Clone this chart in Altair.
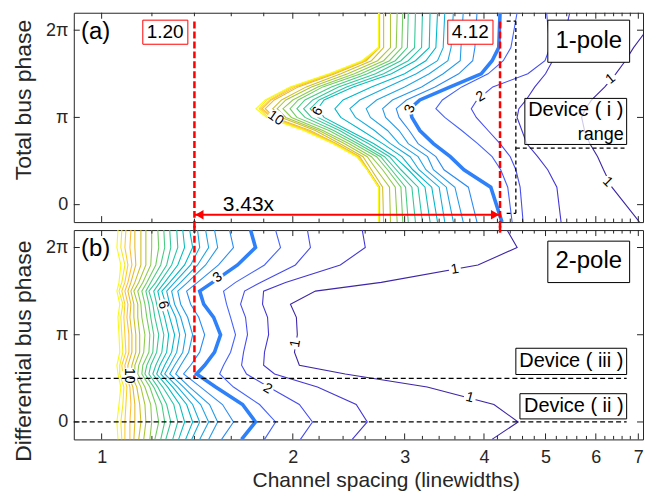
import altair as alt
import pandas as pd

FONT = "Liberation Sans"
INK = "#262626"
W, H = 571, 210

# ---------------- contour levels and colours ----------------
LEVELS = [1.0, 1.5, 2.0, 2.5, 3.0, 3.5, 4.0, 4.5, 5.0, 5.5, 6.0, 6.5,
          7.0, 7.5, 8.0, 8.5, 9.0, 9.5, 10.0, 10.5, 11.0, 11.5, 12.0]
LEVEL_COLORS = ["#3e26a8", "#4537d5", "#484df0", "#4563fd", "#2f81fa", "#2d8cf3",
                "#259be8", "#20a5e3", "#18addb", "#01b8ca", "#0bbdbd", "#2cc4a7",
                "#37c897", "#4acb84", "#72cd64", "#8fcb4e", "#abc739", "#d1bf27",
                "#e6bb2d", "#febe3c", "#fccf30", "#f5e924", "#f9fb15"]

# ---------------- panel (a): total bus phase (units of pi) ----------------
A_PHASE = [2.2, 1.8, 1.65, 1.5, 1.35, 1.2, 1.1, 1.0, 0.85, 0.7, 0.55, 0.4, 0.2, -0.2]
A_SPACING = [
    [7.56, 6.88, 6.68, 6.45, 6.20, 5.91, 5.78, 5.70, 5.76, 5.87, 6.04, 6.17, 6.36, 7.03],  # 1
    [5.46, 5.30, 5.13, 5.00, 4.81, 4.66, 4.54, 4.51, 4.59, 4.67, 4.86, 5.04, 5.21, 5.29],  # 1.5
    [5.02, 5.08, 4.99, 4.69, 4.13, 3.90, 3.82, 3.89, 4.06, 4.24, 4.40, 4.49, 4.56, 4.61],  # 2
    [4.51, 4.41, 4.29, 4.06, 3.69, 3.44, 3.36, 3.47, 3.69, 3.91, 4.12, 4.25, 4.36, 4.43],  # 2.5
    [4.24, 4.22, 4.12, 3.96, 3.54, 3.17, 3.06, 3.08, 3.17, 3.33, 3.54, 3.72, 4.10, 4.27],  # 3
    [3.90, 3.87, 3.84, 3.65, 3.35, 3.02, 2.91, 2.94, 3.05, 3.15, 3.36, 3.46, 3.78, 3.90],  # 3.5
    [3.71, 3.68, 3.67, 3.45, 3.19, 2.87, 2.77, 2.80, 2.94, 3.04, 3.26, 3.33, 3.60, 3.71],  # 4
    [3.58, 3.55, 3.51, 3.28, 3.00, 2.71, 2.61, 2.65, 2.82, 2.94, 3.15, 3.24, 3.49, 3.58],  # 4.5
    [3.47, 3.45, 3.38, 3.13, 2.82, 2.55, 2.46, 2.51, 2.69, 2.85, 3.06, 3.16, 3.40, 3.47],  # 5
    [3.38, 3.36, 3.24, 3.00, 2.66, 2.40, 2.33, 2.38, 2.57, 2.77, 2.97, 3.09, 3.31, 3.38],  # 5.5
    [3.29, 3.28, 3.12, 2.86, 2.49, 2.24, 2.19, 2.24, 2.45, 2.68, 2.89, 3.04, 3.23, 3.29],  # 6
    [3.20, 3.19, 3.04, 2.78, 2.43, 2.20, 2.13, 2.19, 2.41, 2.63, 2.84, 2.96, 3.15, 3.20],  # 6.5
    [3.12, 3.11, 2.96, 2.70, 2.36, 2.15, 2.08, 2.14, 2.37, 2.57, 2.79, 2.91, 3.08, 3.12],  # 7
    [3.04, 3.03, 2.90, 2.62, 2.30, 2.09, 2.03, 2.09, 2.32, 2.53, 2.75, 2.86, 3.01, 3.04],  # 7.5
    [2.98, 2.97, 2.84, 2.56, 2.23, 2.04, 1.98, 2.03, 2.28, 2.49, 2.71, 2.82, 2.96, 2.98],  # 8
    [2.92, 2.91, 2.78, 2.50, 2.19, 2.00, 1.93, 1.99, 2.23, 2.45, 2.66, 2.77, 2.90, 2.92],  # 8.5
    [2.85, 2.85, 2.72, 2.44, 2.14, 1.95, 1.89, 1.95, 2.20, 2.41, 2.62, 2.71, 2.84, 2.85],  # 9
    [2.78, 2.78, 2.66, 2.38, 2.10, 1.92, 1.86, 1.92, 2.17, 2.37, 2.58, 2.66, 2.77, 2.78],  # 9.5
    [2.74, 2.74, 2.61, 2.33, 2.04, 1.87, 1.81, 1.87, 2.13, 2.34, 2.55, 2.63, 2.74, 2.74],  # 10
    [2.73, 2.73, 2.60, 2.31, 2.02, 1.85, 1.79, 1.86, 2.11, 2.33, 2.54, 2.62, 2.73, 2.73],  # 10.5
    [2.73, 2.73, 2.59, 2.30, 2.00, 1.84, 1.78, 1.85, 2.10, 2.32, 2.53, 2.62, 2.73, 2.73],  # 11
    [2.73, 2.73, 2.58, 2.29, 1.99, 1.82, 1.77, 1.83, 2.09, 2.32, 2.53, 2.62, 2.73, 2.73],  # 11.5
    [2.73, 2.73, 2.57, 2.28, 1.98, 1.81, 1.75, 1.82, 2.08, 2.31, 2.52, 2.62, 2.73, 2.73],  # 12
]
A_LABELS = [("10", 1.88, 0.99, 35), ("6", 2.19, 1.07, 300), ("3", 3.06, 1.10, 290),
            ("2", 3.95, 1.24, 330), ("1", 6.33, 1.44, 320), ("1", 6.26, 0.26, 45)]

# ---------------- panel (b): differential bus phase (units of pi) ----------------
B_PHASE = [2.2, 2.0, 1.8, 1.6, 1.5, 1.35, 1.2, 1.0, 0.8, 0.65, 0.55, 0.4, 0.2, 0.0, -0.2]
B_SPACING = [
    [4.349, 4.511, 3.914, 2.756, 2.171, 1.983, 2.026, 2.033, 2.012, 2.048, 2.419, 3.255, 4.147, 4.528, 4.118],  # 1
    [2.573, 2.601, 2.376, 1.948, 1.799, 1.792, 1.825, 1.832, 1.805, 1.799, 1.872, 2.187, 2.517, 2.620, 2.481],  # 1.5
    [2.109, 2.132, 2.019, 1.779, 1.679, 1.655, 1.685, 1.697, 1.673, 1.661, 1.691, 1.832, 2.048, 2.148, 2.056],  # 2
    [1.879, 1.913, 1.805, 1.625, 1.556, 1.573, 1.596, 1.625, 1.596, 1.556, 1.534, 1.613, 1.773, 1.879, 1.805],  # 2.5
    [1.716, 1.747, 1.637, 1.495, 1.427, 1.448, 1.501, 1.539, 1.506, 1.453, 1.411, 1.512, 1.667, 1.747, 1.661],  # 3
    [1.590, 1.613, 1.528, 1.416, 1.361, 1.381, 1.422, 1.453, 1.427, 1.381, 1.346, 1.432, 1.550, 1.613, 1.545],  # 3.5
    [1.506, 1.523, 1.458, 1.366, 1.318, 1.332, 1.366, 1.391, 1.371, 1.332, 1.308, 1.376, 1.479, 1.523, 1.474],  # 4
    [1.458, 1.474, 1.416, 1.332, 1.289, 1.303, 1.332, 1.356, 1.342, 1.303, 1.280, 1.346, 1.432, 1.474, 1.427],  # 4.5
    [1.416, 1.427, 1.381, 1.303, 1.266, 1.280, 1.308, 1.327, 1.313, 1.280, 1.257, 1.318, 1.391, 1.427, 1.386],  # 5
    [1.376, 1.391, 1.351, 1.280, 1.244, 1.262, 1.280, 1.303, 1.289, 1.257, 1.239, 1.294, 1.361, 1.391, 1.356],  # 5.5
    [1.342, 1.351, 1.318, 1.257, 1.226, 1.239, 1.257, 1.275, 1.266, 1.235, 1.221, 1.271, 1.327, 1.351, 1.322],  # 6
    [1.313, 1.318, 1.289, 1.235, 1.208, 1.221, 1.235, 1.253, 1.244, 1.217, 1.204, 1.248, 1.299, 1.318, 1.294],  # 6.5
    [1.280, 1.285, 1.266, 1.217, 1.187, 1.204, 1.213, 1.230, 1.221, 1.195, 1.187, 1.226, 1.266, 1.285, 1.262],  # 7
    [1.253, 1.257, 1.239, 1.195, 1.174, 1.187, 1.195, 1.208, 1.204, 1.178, 1.170, 1.208, 1.244, 1.257, 1.239],  # 7.5
    [1.226, 1.230, 1.217, 1.178, 1.157, 1.170, 1.178, 1.191, 1.187, 1.161, 1.157, 1.191, 1.217, 1.230, 1.213],  # 8
    [1.199, 1.199, 1.195, 1.161, 1.140, 1.153, 1.157, 1.170, 1.165, 1.144, 1.140, 1.170, 1.195, 1.199, 1.191],  # 8.5
    [1.174, 1.174, 1.174, 1.144, 1.124, 1.140, 1.140, 1.148, 1.148, 1.128, 1.128, 1.153, 1.170, 1.174, 1.165],  # 9
    [1.153, 1.153, 1.153, 1.128, 1.112, 1.124, 1.124, 1.132, 1.132, 1.116, 1.112, 1.136, 1.148, 1.153, 1.144],  # 9.5
    [1.128, 1.128, 1.132, 1.112, 1.100, 1.112, 1.108, 1.116, 1.116, 1.100, 1.100, 1.120, 1.128, 1.128, 1.124],  # 10
    [1.112, 1.108, 1.116, 1.100, 1.088, 1.100, 1.096, 1.104, 1.104, 1.088, 1.092, 1.108, 1.112, 1.108, 1.108],  # 10.5
    [1.092, 1.088, 1.100, 1.088, 1.076, 1.088, 1.084, 1.088, 1.092, 1.076, 1.080, 1.096, 1.092, 1.088, 1.088],  # 11
    [1.076, 1.072, 1.088, 1.076, 1.065, 1.080, 1.072, 1.076, 1.080, 1.068, 1.068, 1.084, 1.080, 1.072, 1.076],  # 11.5
    [1.061, 1.057, 1.072, 1.065, 1.057, 1.068, 1.061, 1.065, 1.068, 1.057, 1.061, 1.072, 1.065, 1.057, 1.061],  # 12
]
B_LABELS = [("3", 1.523, 1.656, 325), ("6", 1.25, 1.34, 75), ("10", 1.105, 0.53, 90),
            ("2", 1.825, 0.382, 30), ("1", 3.60, 1.75, 350), ("1", 2.02, 0.90, 280),
            ("1", 3.80, 0.278, 15)]

# ---------------- axes ----------------
X_MAJOR = [1, 2, 3, 4, 5, 6, 7]
X_MINOR = [1.2, 1.4, 1.6, 1.8, 2.2, 2.4, 2.6, 2.8, 3.2, 3.4, 3.6, 3.8,
           4.2, 4.4, 4.6, 4.8, 5.2, 5.4, 5.6, 5.8, 6.2, 6.4, 6.6, 6.8]
Y_MAJOR = [0, 1, 2]

# ---------------- annotations ----------------
RED_X = [1.40, 4.24]
ARROW_Y = -0.115
A_RED_BOXES = [(1.161, 1.367, 1.839, 2.115), (3.508, 4.133, 1.839, 2.115)]
A_BLACK_BOXES = [(5.042, 6.783, 1.632, 2.115)]
A_DEVICE_BOX = [(4.639, 6.710, 0.690, 1.218)]
A_TEXT_BIG = [("1-pole", 5.849, 1.874)]
A_TEXT_MID = [("1.20", 1.259, 1.977), ("4.12", 3.806, 1.977)]
A_TEXT_DEV = [("Device ( i )", 5.58, 1.08)]
A_BRACKET_V = [(4.49, -0.10, 2.103)]
A_BRACKET_H = [(4.343, 4.49, 2.103), (4.343, 4.49, -0.10), (4.49, 6.686, 0.647)]

B_BOXES = [(5.042, 6.783, 1.598, 2.073), (4.490, 6.710, 0.544, 0.845), (4.557, 6.710, 0.035, 0.324)]
B_TEXT_BIG = [("2-pole", 5.849, 1.841)]
B_TEXT_DEV = [("Device ( iii )", 5.49, 0.695), ("Device ( ii )", 5.54, 0.185)]
B_DEVICE_PHASE = [0.5, 0.0]

X_SCALE = alt.Scale(type="log", domain=[0.904, 7.12], nice=False)
Y_SCALE = alt.Scale(domain=[-0.2, 2.2], nice=False, zero=False)


def contour_table(phase, spacing):
    recs = []
    for lev, xs in zip(LEVELS, spacing):
        for i, (p, s) in enumerate(zip(phase, xs)):
            recs.append({"level": lev, "idx": i, "spacing": s, "phase": p})
    return pd.DataFrame(recs)


def y_axis(title, title_y):
    return alt.Axis(values=Y_MAJOR,
                    labelExpr="datum.value == 0 ? '0' : (datum.value == 1 ? 'π' : '2π')",
                    ticks=False, domain=False, grid=False, labelPadding=6,
                    labelFontSize=18, labelFont=FONT, labelColor=INK,
                    title=title, titleFontSize=23, titleFont=FONT, titleFontWeight="normal",
                    titleColor=INK, titleX=-38, titleY=title_y, titleBaseline="bottom",
                    titleAngle=270, titleAlign="center")


X_AXIS_B = alt.Axis(values=X_MAJOR, format="d", ticks=False, domain=False, grid=False,
                    labelPadding=9, labelFontSize=18, labelFont=FONT, labelColor=INK,
                    labelFlush=False, title="Channel spacing (linewidths)", titleFontSize=21,
                    titleFont=FONT, titleFontWeight="normal", titleColor=INK,
                    titleBaseline="top", titleY=30, titleX=313)


def text_layer(rows, ex, ey, size, align="center"):
    df = pd.DataFrame(rows, columns=["t", "x", "y"])
    return alt.Chart(df).mark_text(font=FONT, fontSize=size, align=align, baseline="middle",
                                   color="black").encode(x=ex("x"), y=ey("y"), text="t:N")


def box_layer(rows, ex, ey, stroke, opacity=1.0):
    df = pd.DataFrame(rows, columns=["x", "x2", "y", "y2"])
    return alt.Chart(df).mark_rect(fill="white", fillOpacity=opacity, stroke=stroke,
                                   strokeWidth=1).encode(
        x=ex("x"), x2=alt.X2("x2:Q"), y=ey("y"), y2=alt.Y2("y2:Q"))


def make_panel(phase, spacing, labels, yaxis, xaxis, extra):
    def ex(f):
        return alt.X(f"{f}:Q", scale=X_SCALE, axis=xaxis)

    def ey(f):
        return alt.Y(f"{f}:Q", scale=Y_SCALE, axis=yaxis)

    lines = contour_table(phase, spacing)
    color = alt.Color("level:O", scale=alt.Scale(domain=LEVELS, range=LEVEL_COLORS), legend=None)
    base = alt.Chart(lines).encode(x=ex("spacing"), y=ey("phase"), color=color,
                                   detail="level:O", order="idx:Q")
    thin = base.transform_filter(alt.datum.level != 3).mark_line(clip=True, strokeWidth=1.1)
    thick = base.transform_filter(alt.datum.level == 3).mark_line(clip=True, strokeWidth=3.6)

    lab = pd.DataFrame(labels, columns=["text", "spacing", "phase", "angle"])
    lab_bg = alt.Chart(lab).mark_point(filled=True, color="white", opacity=1, shape="circle",
                                       strokeWidth=0).encode(
        x=ex("spacing"), y=ey("phase"),
        size=alt.condition("length(datum.text) > 1", alt.value(280), alt.value(150)))
    lab_tx = alt.Chart(lab).mark_text(font=FONT, fontSize=14, color="black",
                                      baseline="middle").encode(
        x=ex("spacing"), y=ey("phase"), text="text:N", angle=alt.Angle("angle:Q", scale=None))

    ticks = []
    for vals, ln in [(X_MAJOR, 6), (X_MINOR, 3.5)]:
        d = alt.Chart(pd.DataFrame({"v": vals}))
        ticks.append(d.mark_rule(color=INK, strokeWidth=1).encode(
            x=ex("v"), y=alt.value(0), y2=alt.value(ln)))
        ticks.append(d.mark_rule(color=INK, strokeWidth=1).encode(
            x=ex("v"), y=alt.value(H), y2=alt.value(H - ln)))
    d = alt.Chart(pd.DataFrame({"v": Y_MAJOR}))
    ticks.append(d.mark_rule(color=INK, strokeWidth=1).encode(
        y=ey("v"), x=alt.value(0), x2=alt.value(6)))
    ticks.append(d.mark_rule(color=INK, strokeWidth=1).encode(
        y=ey("v"), x=alt.value(W), x2=alt.value(W - 6)))

    return alt.layer(thin, thick, lab_bg, lab_tx, *extra(ex, ey), *ticks).properties(
        width=W, height=H)


def extra_a(ex, ey):
    out = []
    red = pd.DataFrame({"x": RED_X, "y": [2.10, 2.10], "y2": [-0.305, -0.305]})
    out.append(alt.Chart(red).mark_rule(color="red", strokeWidth=2.5, strokeDash=[7, 3]).encode(
        x=ex("x"), y=ey("y"), y2=alt.Y2("y2:Q")))
    arrow = pd.DataFrame({"x": [RED_X[0]], "x2": [RED_X[1]], "y": [ARROW_Y]})
    out.append(alt.Chart(arrow).mark_rule(color="red", strokeWidth=2).encode(
        x=ex("x"), x2=alt.X2("x2:Q"), y=ey("y")))
    left = pd.DataFrame({"x": [RED_X[0]], "y": [ARROW_Y]})
    right = pd.DataFrame({"x": [RED_X[1]], "y": [ARROW_Y]})
    out.append(alt.Chart(left).mark_point(shape="triangle-left", filled=True, color="red",
                                          opacity=1, size=90, xOffset=5).encode(x=ex("x"), y=ey("y")))
    out.append(alt.Chart(right).mark_point(shape="triangle-right", filled=True, color="red",
                                           opacity=1, size=90, xOffset=-5).encode(x=ex("x"), y=ey("y")))
    out.append(text_layer([("3.43x", 1.703, 0.0)], ex, ey, 21))
    bv = pd.DataFrame(A_BRACKET_V, columns=["x", "y", "y2"])
    out.append(alt.Chart(bv).mark_rule(color="black", strokeWidth=1.3, strokeDash=[4, 3]).encode(
        x=ex("x"), y=ey("y"), y2=alt.Y2("y2:Q")))
    bh = pd.DataFrame(A_BRACKET_H, columns=["x", "x2", "y"])
    out.append(alt.Chart(bh).mark_rule(color="black", strokeWidth=1.3, strokeDash=[4, 3]).encode(
        x=ex("x"), x2=alt.X2("x2:Q"), y=ey("y")))
    out.append(box_layer(A_RED_BOXES, ex, ey, "red"))
    out.append(box_layer(A_BLACK_BOXES, ex, ey, "black"))
    out.append(box_layer(A_DEVICE_BOX, ex, ey, "black", 0.75))
    out.append(text_layer(A_TEXT_MID, ex, ey, 19))
    out.append(text_layer(A_TEXT_BIG, ex, ey, 24))
    out.append(text_layer(A_TEXT_DEV, ex, ey, 20))
    out.append(text_layer([("range", 6.638, 0.793)], ex, ey, 18, "right"))
    out.append(text_layer([("(a)", 0.928, 1.977)], ex, ey, 24, "left"))
    return out


def extra_b(ex, ey):
    out = []
    red = pd.DataFrame({"x": RED_X, "y": [2.25, 2.25], "y2": [0.5, 2.14]})
    out.append(alt.Chart(red).mark_rule(color="red", strokeWidth=2.5, strokeDash=[7, 3]).encode(
        x=ex("x"), y=ey("y"), y2=alt.Y2("y2:Q")))
    dev = pd.DataFrame({"x": [0.904] * 2, "x2": [6.71] * 2, "y": B_DEVICE_PHASE})
    out.append(alt.Chart(dev).mark_rule(color="black", strokeWidth=1.3, strokeDash=[5, 3]).encode(
        x=ex("x"), x2=alt.X2("x2:Q"), y=ey("y")))
    out.append(box_layer(B_BOXES, ex, ey, "black"))
    out.append(text_layer(B_TEXT_BIG, ex, ey, 24))
    out.append(text_layer(B_TEXT_DEV, ex, ey, 20))
    out.append(text_layer([("(b)", 0.928, 1.98)], ex, ey, 24, "left"))
    return out


panel_a = make_panel(A_PHASE, A_SPACING, A_LABELS, y_axis("Total bus phase", 87), None, extra_a)
panel_b = make_panel(B_PHASE, B_SPACING, B_LABELS, y_axis("Differential bus phase", 121),
                     X_AXIS_B, extra_b)

chart = alt.vconcat(panel_a, panel_b, spacing=8, bounds="flush").properties(
    padding={"left": 4, "top": 3, "right": 2, "bottom": 2},
    background="white",
).configure_view(stroke=INK, strokeWidth=1)

chart.save("out.html", embed_options={"renderer": "svg", "actions": False})
